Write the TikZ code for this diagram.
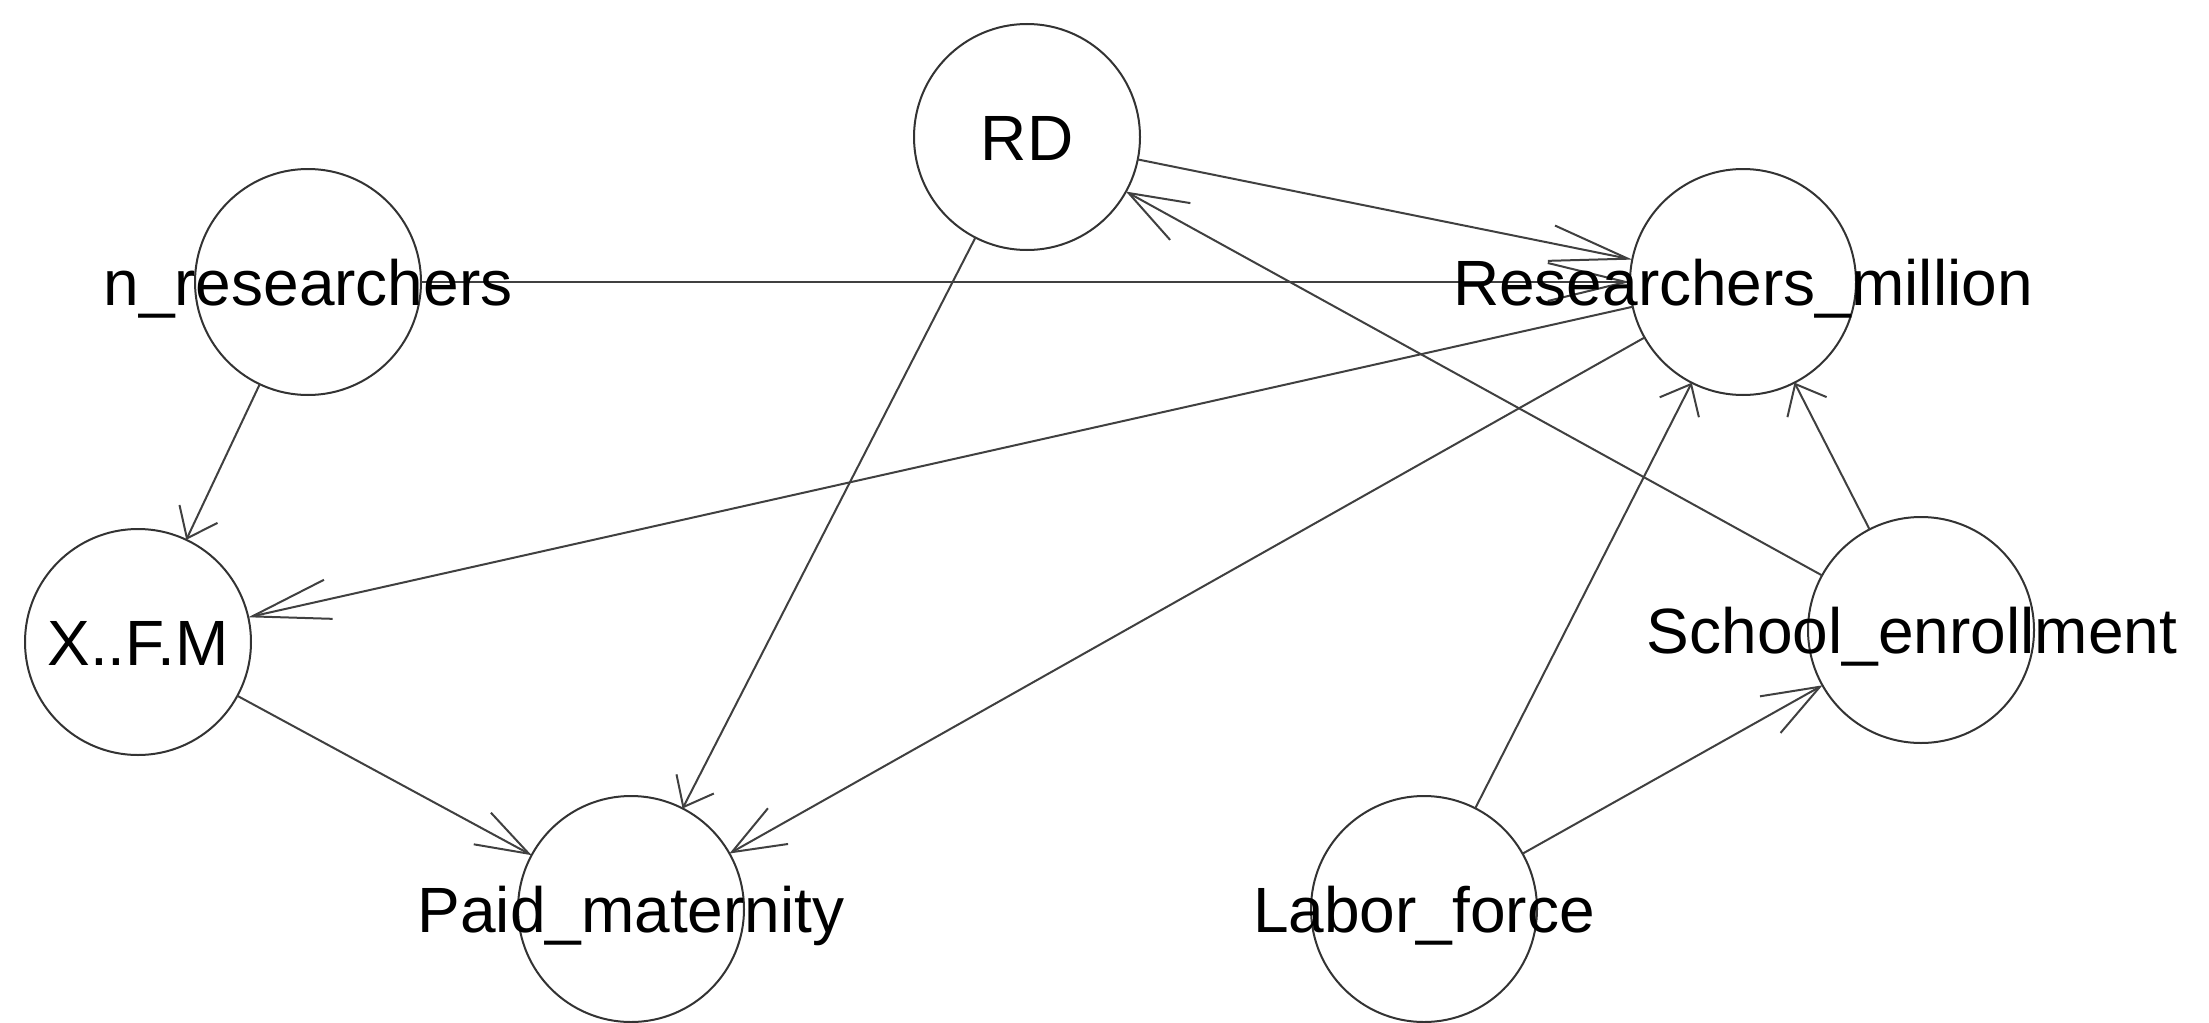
\documentclass[tikz,border=0pt]{standalone}
\usepackage{fontspec}
\setmainfont{Liberation Sans}
\usetikzlibrary{arrows.meta}
\begin{document}
\begin{tikzpicture}[x=0.5pt,y=-0.5pt,
  vertex/.style={circle,draw=black!80,line width=1pt,minimum size=113pt,inner sep=0pt,outer sep=0pt},
  lbl/.style={anchor=base,inner sep=0pt,font=\fontsize{32pt}{38pt}\selectfont},
  edge/.style={draw=black!75,line width=1pt},
  hd/.style 2 args={-{Straight Barb[length=#1,width=#2,line width=1pt]}}]
\path[use as bounding box] (0,0) rectangle (2209,1022);
% vertices
\node[vertex] (rd) at (1027,137) {};
\node[vertex] (nr) at (308,282) {};
\node[vertex] (rm) at (1743,282) {};
\node[vertex] (xfm) at (138,642) {};
\node[vertex] (se) at (1921,630) {};
\node[vertex] (pm) at (631,909) {};
\node[vertex] (lf) at (1424,909) {};
% edges
\draw[edge,hd={39pt}{18pt}] (rd) -- (rm);
\draw[edge,hd={39pt}{19pt}] (nr) -- (rm);
\draw[edge,hd={39pt}{20pt}] (rm) -- (xfm);
\draw[edge,hd={26.5pt}{20.5pt}] (rm) -- (pm);
\draw[edge,hd={13pt}{21pt}] (rd) -- (pm);
\draw[edge,hd={13.5pt}{21pt}] (nr) -- (xfm);
\draw[edge,hd={26.5pt}{18pt}] (xfm) -- (pm);
\draw[edge,hd={29.5pt}{21pt}] (se) -- (rd);
\draw[edge,hd={13pt}{22pt}] (se) -- (rm);
\draw[edge,hd={13pt}{22pt}] (lf) -- (rm);
\draw[edge,hd={28.5pt}{21pt}] (lf) -- (se);
% labels
\node[lbl] (rd-t) at (1027,160) {RD};
\node[lbl] (nr-t) at (308,305) {n\_researchers};
\node[lbl] (rm-t) at (1743,305) {Researchers\_million};
\node[lbl] (xfm-t) at (138,665) {X..F.M};
\node[lbl] (se-t) at (1912,653) {School\_enrollment};
\node[lbl] (pm-t) at (631,932) {Paid\_maternity};
\node[lbl] (lf-t) at (1424,932) {Labor\_force};
\end{tikzpicture}
\end{document}
